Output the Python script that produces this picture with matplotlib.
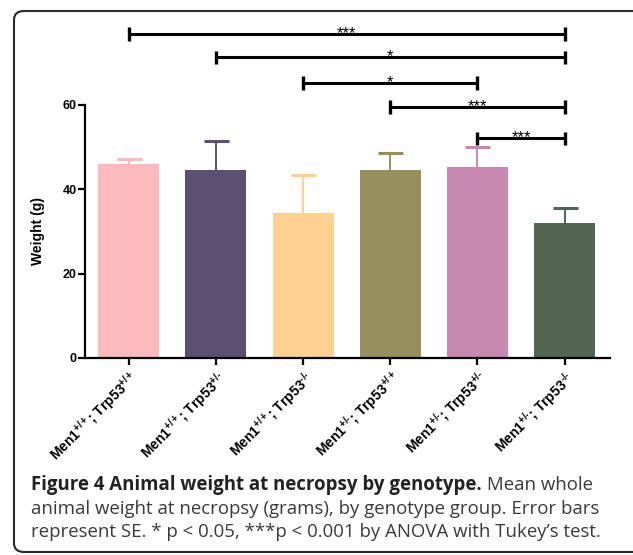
import matplotlib
matplotlib.use("Agg")
import matplotlib.pyplot as plt
from matplotlib.patches import FancyBboxPatch

plt.rcParams['font.family'] = ['Liberation Sans', 'DejaVu Sans']
plt.rcParams['mathtext.fontset'] = 'custom'
plt.rcParams['mathtext.rm'] = 'Liberation Sans:bold'
plt.rcParams['mathtext.it'] = 'Liberation Sans:bold'
plt.rcParams['mathtext.bf'] = 'Liberation Sans:bold'

# ---- data ----
men1 = ["+/+", "+/+", "+/+", "+/\u2010", "+/\u2010", "+/\u2010"]
trp53 = ["+/+", "+/\u2010", "\u2010/\u2010", "+/+", "+/\u2010", "\u2010/\u2010"]
weights = [45.9, 44.7, 34.5, 44.7, 45.3, 32.1]
se_upper = [1.3, 6.8, 8.9, 3.9, 4.7, 3.4]
colors = ["#FBBBBE", "#5B5072", "#FDD291", "#978F5D", "#C789B1", "#526454"]
sig_pairs = [(0, 5), (1, 5), (2, 4), (3, 5), (4, 5)]
sig_heights = [76.8, 71.3, 65.2, 59.5, 52.1]
sig_labels = ["***", "*", "*", "***", "***"]
yticks = [0, 20, 40, 60]

W, H = 633, 555
fig = plt.figure(figsize=(W / 100, H / 100), dpi=100)

# rounded frame
frame = FancyBboxPatch((14 / W, 1 - 552 / H), 640 / W, 541 / H,
                       boxstyle="round,pad=0,rounding_size=0.016",
                       transform=fig.transFigure, fill=False,
                       edgecolor="#2b2b2b", linewidth=1.5)
fig.patches.append(frame)

ymax = 78
px_per_unit = 253 / 60
y0 = 358
ax = fig.add_axes([85 / W, (H - y0) / H, 525 / W, ymax * px_per_unit / H])

x = list(range(len(weights)))
ax.bar(x, weights, width=0.7, color=colors, zorder=2)
for xi, w, e, c in zip(x, weights, se_upper, colors):
    _, caps, _ = ax.errorbar(xi, w, yerr=[[0], [e]], fmt='none', ecolor=c,
                             elinewidth=1.4, capsize=9, capthick=2.2, zorder=1)
    if len(caps) == 2:
        caps[0].set_visible(False)

ax.set_xlim(-0.5, 5.52)
ax.set_ylim(0, ymax)
for s in ["top", "right"]:
    ax.spines[s].set_visible(False)
ax.spines["left"].set_bounds(0, 60)
ax.spines["left"].set_linewidth(1.6)
ax.spines["bottom"].set_linewidth(1.6)
ax.set_yticks(yticks)
ax.set_yticklabels([str(t) for t in yticks], fontsize=9, fontweight='bold')
ax.tick_params(axis='y', length=5, width=1.6, pad=1)
ax.tick_params(axis='x', length=5, width=1.6, pad=2)

labels = ["Men1$^{%s}$; Trp53$^{%s}$" % (m, t) for m, t in zip(men1, trp53)]
ax.set_xticks(x)
ax.set_xticklabels(labels, rotation=45, ha='right', rotation_mode='anchor',
                   fontsize=10, fontweight='bold')

ax.set_ylabel("Weight (g)", fontsize=10, fontweight='bold')
ax.yaxis.set_label_coords(-0.076, 30 / ymax)

# significance brackets
for (a, b), h, lab in zip(sig_pairs, sig_heights, sig_labels):
    ax.plot([a, b], [h, h], color='black', lw=2.2, clip_on=False,
            solid_capstyle='butt', zorder=3)
    for xe in (a, b):
        ax.plot([xe, xe], [h - 1.6, h + 1.6], color='black', lw=2.4,
                clip_on=False, solid_capstyle='butt', zorder=3)
    ax.text((a + b) / 2, h - 0.9, lab, ha='center', va='baseline',
            fontsize=12, clip_on=False, zorder=4)

# caption
cap_font = 'Open Sans'
fs = 13.4
bold_part = "Figure 4 Animal weight at necropsy by genotype."
reg_part = " Mean whole"
lines = ["animal weight at necropsy (grams), by genotype group. Error bars",
         "represent SE. * p < 0.05, ***p < 0.001 by ANOVA with Tukey\u2019s test."]
x0 = 31 / W
t1 = fig.text(x0, 1 - 490 / H, bold_part, fontsize=fs, fontweight='bold',
              family=cap_font, color='#222222', va='baseline')
fig.canvas.draw()
r = fig.canvas.get_renderer()
bb = t1.get_window_extent(r)
fig.text(bb.x1 / W, 1 - 490 / H, reg_part, fontsize=fs, family=cap_font,
         color='#3a3a3a', va='baseline')
for i, ln in enumerate(lines):
    fig.text(x0, 1 - (513.5 + 23.5 * i) / H, ln, fontsize=fs, family=cap_font,
             color='#3a3a3a', va='baseline')

fig.savefig("out.png", dpi=100)
